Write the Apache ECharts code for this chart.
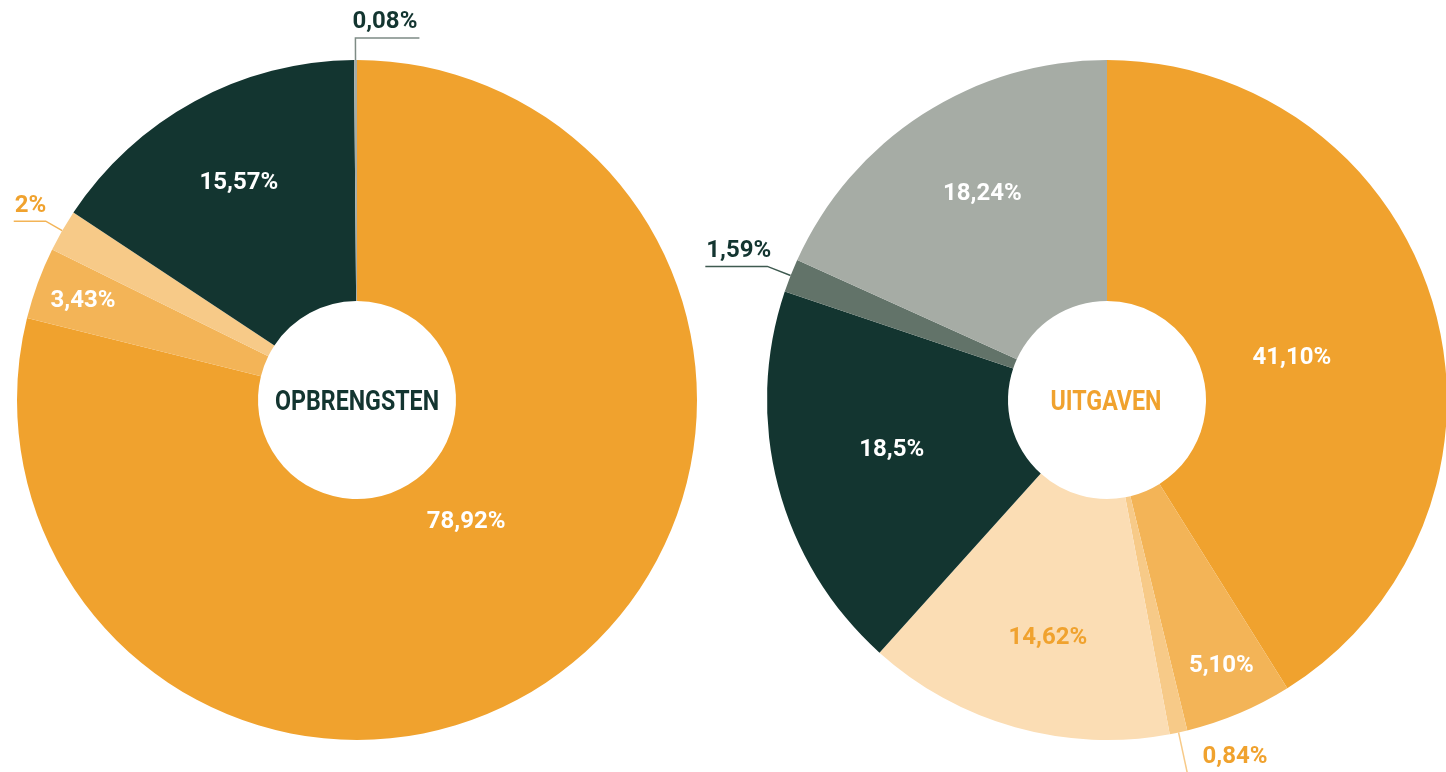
<!DOCTYPE html>
<html>
<head>
<meta charset="utf-8">
<script src="https://cdn.jsdelivr.net/npm/echarts@6/dist/echarts.min.js"></script>
<style>
  html, body { margin: 0; padding: 0; background: #fff; }
  #main { width: 1446px; height: 772px; }
</style>
</head>
<body>
<div id="main"></div>
<script>
// opbrengsten (links)
const leftValues = [78.92, 3.43, 2, 15.57, 0.08];
const leftLabels = ['78,92%', '3,43%', '2%', '15,57%', '0,08%'];
const leftColors = ['#f0a22e', '#f3b457', '#f7ca88', '#133530', '#a6aca5'];
const leftTextColors = ['#fff', '#fff', '#f0a22e', '#fff', '#133530'];

// uitgaven (rechts)
const rightValues = [41.10, 5.10, 0.84, 14.62, 18.5, 1.59, 18.24];
const rightLabels = ['41,10%', '5,10%', '0,84%', '14,62%', '18,5%', '1,59%', '18,24%'];
const rightColors = ['#f0a22e', '#f3b457', '#f7ca88', '#fbddb4', '#133530', '#627369', '#a6aca5'];
const rightTextColors = ['#fff', '#fff', '#f0a22e', '#f0a22e', '#fff', '#133530', '#fff'];

const FONT = "'Roboto', sans-serif";

// verschuiving van de labels binnen de ring, en soort lijn voor labels buiten
const leftShift = [[-28, -53], [-65, -22], null, [-12, -21], null];
const leftKind = [null, null, 'left', null, 'right'];
const leftLine = [null, null, [19, 32, '#f3b457'], null, [22, 64, '#7e8b85']];

const rightShift = [[-29, 19], [28, 61], null, [1, 24], [0, -6], null, [-4, -19]];
const rightKind = [null, null, 'down', null, null, 'left', null];
const rightLine = [null, null, [45, 0, '#f7ca88'], null, null, [25, 62, '#3e5a50'], null];

function buildData (values, labels, colors, textColors, lines) {
  return values.map((v, i) => {
    const item = {
      value: v,
      name: labels[i],
      itemStyle: { color: colors[i] },
      label: { color: textColors[i] }
    };
    if (lines[i]) {
      item.label.position = 'outside';
      item.labelLine = {
        show: true,
        length: lines[i][0],
        length2: lines[i][1],
        smooth: false,
        lineStyle: { color: lines[i][2], width: 1.5 }
      };
    }
    return item;
  });
}

function layoutFor (shift, kind) {
  return function (p) {
    const i = p.dataIndex;
    const k = kind[i];
    if (!k) {
      const s = shift[i];
      return s ? { dx: s[0], dy: s[1] } : {};
    }
    const pts = p.labelLinePoints;
    if (!pts) return {};
    const a = pts[0], b = pts[1], c = pts[2];
    if (k === 'left') {
      return { x: c[0] + 1, y: b[1] - 3, align: 'left', verticalAlign: 'bottom', labelLinePoints: [a, b, c] };
    }
    if (k === 'right') {
      const len = Math.abs(c[0] - b[0]);
      return { x: b[0] - 3, y: b[1] - 4, align: 'left', verticalAlign: 'bottom', labelLinePoints: [a, b, [b[0] + len, b[1]]] };
    }
    // down
    return { x: a[0] + 24, y: a[1] + 25, align: 'left', verticalAlign: 'middle', labelLinePoints: [a, b, b] };
  };
}

function pieSeries (center, data, shift, kind) {
  return {
    type: 'pie',
    center: center,
    radius: [99, 340],
    startAngle: 90,
    clockwise: true,
    minAngle: 0.5,
    avoidLabelOverlap: false,
    silent: true,
    emphasis: { disabled: true },
    label: {
      show: true,
      position: 'inside',
      formatter: '{b}',
      fontFamily: FONT,
      fontWeight: 'bold',
      fontSize: 24
    },
    labelLine: { show: false },
    labelLayout: layoutFor(shift, kind),
    data: data
  };
}

const myChart = echarts.init(document.getElementById('main'));
const option = {
  animation: false,
  backgroundColor: '#fff',
  graphic: [
    {
      type: 'text', x: 357, y: 403, scaleX: 0.86,
      style: { text: 'OPBRENGSTEN', fill: '#133530', font: "bold 27px " + FONT, align: 'center', verticalAlign: 'middle' }
    },
    {
      type: 'text', x: 1106, y: 403, scaleX: 0.86,
      style: { text: 'UITGAVEN', fill: '#f0a22e', font: "bold 27px " + FONT, align: 'center', verticalAlign: 'middle' }
    }
  ],
  series: [
    pieSeries([357, 400], buildData(leftValues, leftLabels, leftColors, leftTextColors, leftLine), leftShift, leftKind),
    pieSeries([1107, 400], buildData(rightValues, rightLabels, rightColors, rightTextColors, rightLine), rightShift, rightKind)
  ]
};
myChart.setOption(option);
</script>
</body>
</html>
